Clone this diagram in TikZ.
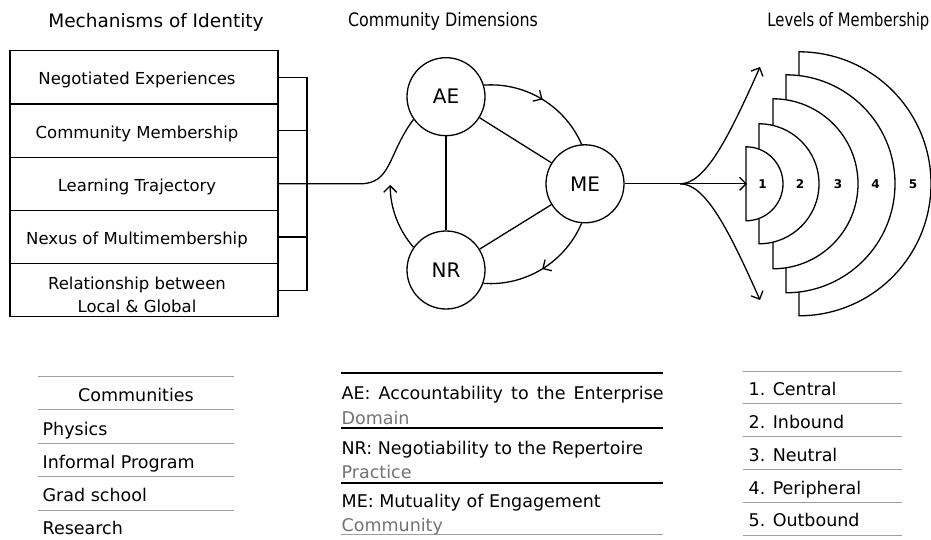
\documentclass[tikz,border=0pt]{standalone}
\usepackage{fontspec}
\setmainfont{DejaVu Sans}
\usetikzlibrary{arrows.meta,decorations.markings}
\definecolor{rulegray}{gray}{0.62}
\definecolor{subgray}{gray}{0.45}

\begin{document}
\begin{tikzpicture}[x=1pt,y=1pt,
  line width=1.3pt,
  >={Straight Barb[length=6.5pt,width=13pt]},
  box/.style={draw, rectangle, minimum width=268pt, minimum height=53.2pt, inner sep=0pt},
  boxtext/.style={anchor=base, inner sep=0pt, font=\fontsize{16.5}{19}\selectfont},
  dim/.style={draw, circle, minimum size=78pt, inner sep=0pt, font=\fontsize{20}{24}\selectfont},
  title/.style={inner sep=0pt, font=\fontsize{18.5}{22}\selectfont},
  row/.style={anchor=base west, inner sep=0pt, font=\fontsize{17.5}{21}\selectfont},
  subrow/.style={row, text=subgray},
  midarrow/.style={postaction={decorate},
    decoration={markings, mark=at position 0.5 with {\arrow{>}}}},
  lvl/.style={draw, fill=white},
  lvlnum/.style={inner sep=0pt, font=\bfseries\fontsize{12}{14}\selectfont},
  thinrule/.style={draw=rulegray, line width=0.9pt},
  thickrule/.style={line width=2pt},
]
\useasboundingbox (0,0) rectangle (931,539);

% column headings
\node[title, anchor=base] (h1) at (156,511.7) {Mechanisms of Identity};
\node[title, anchor=base] (h2) at (443,512) {\scalebox{0.86}[1]{Community Dimensions}};
\node[title, anchor=base east] (h3) at (930,512) {\scalebox{0.8}[1]{Levels of Membership}};

% mechanisms of identity
\node[box] (b1) at (144,461.6) {};
\node[box] (b2) at (144,408.4) {};
\node[box] (b3) at (144,355.2) {};
\node[box] (b4) at (144,302.0) {};
\node[box] (b5) at (144,248.8) {};
\node[boxtext] (m1) at ([shift={(-7,-7.5)}]b1.center) {Negotiated Experiences};
\node[boxtext] (m2) at ([shift={(-7,-7.5)}]b2.center) {Community Membership};
\node[boxtext] (m3) at ([shift={(-7,-7.5)}]b3.center) {Learning Trajectory};
\node[boxtext] (m4) at ([shift={(-7,-7.5)}]b4.center) {Nexus of Multimembership};
\node[boxtext] (m5a) at ([shift={(-7,0.9)}]b5.center) {Relationship between};
\node[boxtext] (m5b) at ([shift={(-7,-22.5)}]b5.center) {Local \& Global};

% bracket joining the mechanisms
\coordinate (bx) at (307,0);
\draw (b1.east) -- (b1.east -| bx) -- (b5.east -| bx) -- (b5.east);
\draw (b2.east) -- (b2.east -| bx);
\draw (b4.east) -- (b4.east -| bx);

% community dimensions
\node[dim] (AE) at (446,442.3) {AE};
\node[dim] (ME) at (585,355.2) {ME};
\node[dim] (NR) at (446,269) {NR};

\coordinate (c0) at (360,355.2);
\draw (b3.east) -- (c0) to[out=0,in=233,out distance=32,in distance=43] (AE.215);

\draw (AE) -- (NR);
\draw (AE) -- (ME);
\draw (NR) -- (ME);

\draw[midarrow] (AE.17) arc[start angle=94,end angle=23,radius=99];
\draw[midarrow] (ME.265) arc[start angle=-23,end angle=-94,radius=99];
\draw[->] (NR.145) arc[start angle=221,end angle=180,radius=95];

% levels of membership
\foreach \x/\r in {799/132, 786/109, 773/85, 759/60, 746/37}
  \filldraw[lvl] (\x,355.2+\r) -- (\x,355.2-\r) arc[start angle=-90,end angle=90,radius=\r] -- cycle;
\node[lvlnum] (k1) at (762.5,355.2) {1};
\node[lvlnum] (k2) at (800,355.2) {2};
\node[lvlnum] (k3) at (838,355.2) {3};
\node[lvlnum] (k4) at (875.5,355.2) {4};
\node[lvlnum] (k5) at (913,355.2) {5};

\coordinate (br) at (680,355.2);
\coordinate (l1) at (747,355.2);
\coordinate (up) at (760,472);
\coordinate (dn) at (760,239);
\draw (ME.east) -- (br);
\draw[->] (br) -- (l1);
\draw[->] (br) to[out=0,in=246,out distance=25,in distance=80] (up);
\draw[->] (br) to[out=0,in=114,out distance=25,in distance=80] (dn);

% communities table
\foreach \y in {163,129.5,96,62.5,29}
  \draw[thinrule] (38,\y) -- (234,\y);
\node[row, anchor=base] (cm0) at (136,138) {Communities};
\node[row] (cm1) at (42,104) {Physics};
\node[row] (cm2) at (42,70.7) {Informal Program};
\node[row] (cm3) at (42,37.3) {Grad school};
\node[row] (cm4) at (42,5) {Research};

% dimension key
\foreach \y in {166,111,56}
  \draw[thickrule] (341,\y) -- (663,\y);
\draw[thinrule] (341,5) -- (663,5);
\node[row] (d1) at (341,140) {\makebox[322pt][s]{AE: Accountability to the Enterprise}};
\node[subrow] (d1s) at (341,115) {Domain};
\node[row] (d2) at (341,85) {NR: Negotiability to the Repertoire};
\node[subrow] (d2s) at (341,60.7) {Practice};
\node[row] (d3) at (341,31.7) {ME: Mutuality of Engagement};
\node[subrow] (d3s) at (341,7.3) {Community};

% membership key
\foreach \y in {168,135.5,102.5,70,37,4}
  \draw[thinrule] (743,\y) -- (902,\y);
\node[row] (v1) at (748,143.3) {1. Central};
\node[row] (v2) at (748,110.7) {2. Inbound};
\node[row] (v3) at (748,77.3) {3. Neutral};
\node[row] (v4) at (748,44.7) {4. Peripheral};
\node[row] (v5) at (748,12.3) {5. Outbound};
\end{tikzpicture}
\end{document}
